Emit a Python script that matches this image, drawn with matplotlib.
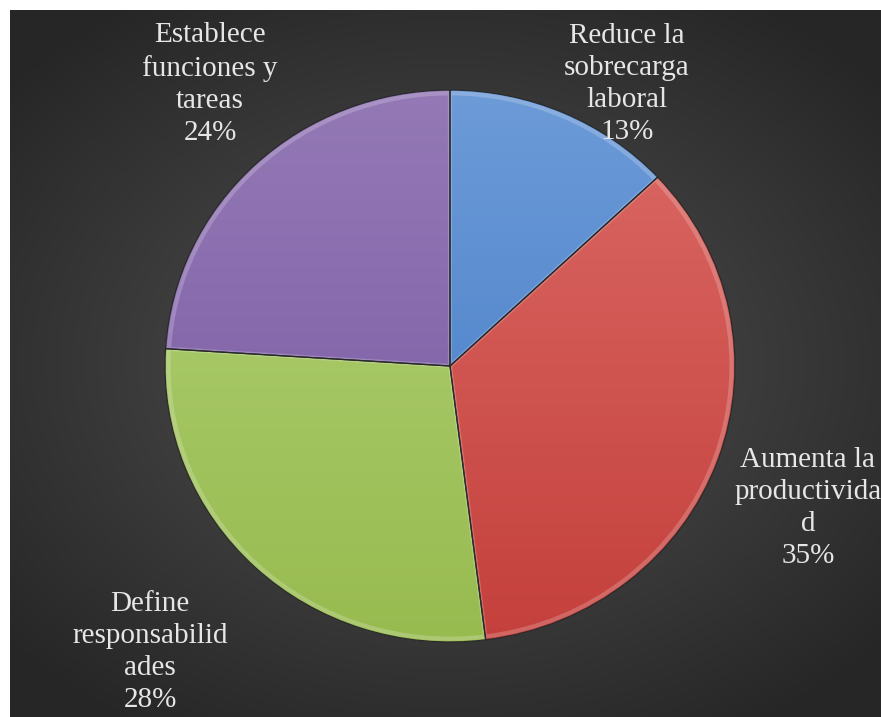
import numpy as np
import matplotlib.pyplot as plt
from matplotlib.colors import LinearSegmentedColormap
from matplotlib.patches import PathPatch
from matplotlib.path import Path

plt.rcParams['font.family'] = ['Liberation Serif', 'DejaVu Serif']

labels = ["Reduce la\nsobrecarga\nlaboral", "Aumenta la\nproductivida\nd",
          "Define\nresponsabilid\nades", "Establece\nfunciones y\ntareas"]
shares = [13, 35, 28, 24]
light = ["#6d9bd8", "#dc6a66", "#b2d277", "#9479b6"]
dark = ["#3f78c4", "#c4403c", "#98bb50", "#7657a0"]
# label anchor (pixels from top-left)
label_xy = [(627, 84), (808, 508), (150, 652), (210, 84)]

W, H = 881, 717
fig = plt.figure(figsize=(W / 100, H / 100), dpi=100)
fig.patch.set_facecolor("white")

# dark radial background panel
bg = fig.add_axes([10 / W, 0, (W - 10) / W, (H - 10) / H])
yy, xx = np.mgrid[-1:1:400j, -1:1:480j]
r = np.sqrt((xx * 1.0) ** 2 + (yy * 1.1) ** 2)
bg_cmap = LinearSegmentedColormap.from_list("bg", ["#585858", "#3c3c3c", "#262626"])
bg.imshow(np.clip(r / 1.35, 0, 1), cmap=bg_cmap, vmin=0, vmax=1, aspect="auto",
          interpolation="bilinear")
bg.set_axis_off()

# pie axes in pixel-proportional units: x radius 285px, y radius 276px
cx, cy, rx, ry = 450, 366, 285, 276
ax = fig.add_axes([0, 0, 1, 1])
ax.patch.set_alpha(0)
wedges, _ = ax.pie(shares, startangle=90, counterclock=False, radius=1,
                   colors=dark, wedgeprops=dict(linewidth=0))
ax.set_aspect("auto")
ax.set_xlim(-cx / rx, (W - cx) / rx)
ax.set_ylim(-(H - cy) / ry, cy / ry)
ax.set_axis_off()

# vertical shading inside each slice
grad = np.linspace(0, 1, 256).reshape(-1, 1)
for w, lo, hi in zip(wedges, light, dark):
    cmap = LinearSegmentedColormap.from_list("s", [lo, hi])
    im = ax.imshow(grad, cmap=cmap, extent=(-1, 1, -1, 1), aspect="auto",
                   origin="upper", zorder=w.get_zorder() + 0.1)
    im.set_clip_path(w)

# soft rim highlight and dark seams on top of the shading
for w in wedges:
    p = w.get_path()
    rim = PathPatch(Path(p.vertices * 0.988, p.codes), fill=False,
                    edgecolor="white", alpha=0.2, linewidth=3, zorder=4)
    ax.add_patch(rim)
    rim.set_clip_path(w)
    ax.add_patch(PathPatch(p, fill=False, edgecolor="#2a2a2a", linewidth=0.9, zorder=5))

for text, pct, (lx, ly) in zip(labels, shares, label_xy):
    fig.text(lx / W, 1 - ly / H, f"{text}\n{pct}%", ha="center", va="center",
             color="#e6e6e6", fontsize=21, linespacing=1.3)

fig.savefig("out.png", dpi=100)
